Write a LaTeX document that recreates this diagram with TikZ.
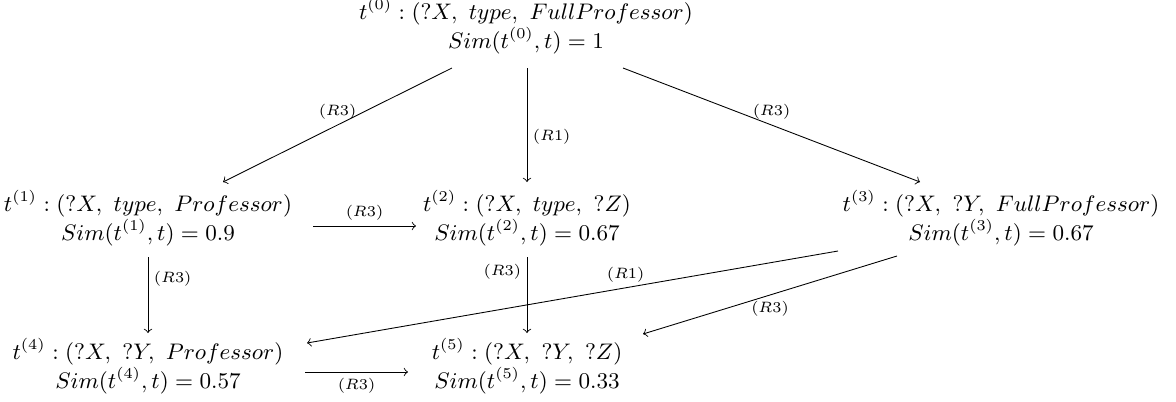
\documentclass[tikz,border=0pt]{standalone}
\usetikzlibrary{calc}
\begin{document}
\begin{tikzpicture}[x=0.4pt,y=-0.4pt,
  term/.style={align=center, inner sep=0pt, font=\fontsize{8.8}{10.56}\selectfont},
  arr/.style={->, line width=0.35pt},
  lab/.style={font=\fontsize{6.2}{7.4}\selectfont, inner sep=2.2pt}]
\useasboundingbox (0,0) rectangle (1176,401);
\node[term] (t0) at (526,26) {$t^{(0)} : (?X,\ type,\ FullProfessor)$\\ $Sim(t^{(0)}, t) = 1$};
\node[term] (t1) at (148,218) {$t^{(1)} : (?X,\ type,\ Professor)$\\ $Sim(t^{(1)}, t) = 0.9$};
\node[term] (t2) at (527,218) {$t^{(2)} : (?X,\ type,\ ?Z)$\\ $Sim(t^{(2)}, t) = 0.67$};
\node[term] (t3) at (1001,218) {$t^{(3)} : (?X,\ ?Y,\ FullProfessor)$\\ $Sim(t^{(3)}, t) = 0.67$};
\node[term] (t4) at (148,366) {$t^{(4)} : (?X,\ ?Y,\ Professor)$\\ $Sim(t^{(4)}, t) = 0.57$};
\node[term] (t5) at (527,366) {$t^{(5)} : (?X,\ ?Y,\ ?Z)$\\ $Sim(t^{(5)}, t) = 0.33$};
% edges
\draw[arr] ($(t0)+(-74,42)$) -- node[lab,above,pos=0.5]{$(R3)$} ($(t1)+(75,-36)$);
\draw[arr] ($(t0)+(1,42)$) -- node[lab,right,pos=0.6]{$(R1)$} ($(t2)+(0,-36)$);
\draw[arr] ($(t0)+(97,42)$) -- node[lab,above,pos=0.5]{$(R3)$} ($(t3)+(-81,-36)$);
\draw[arr] ($(t1)+(165,8)$) -- node[lab,above]{$(R3)$} ($(t2)+(-111,8)$);
\draw[arr] ($(t1)+(0,39)$) -- node[lab,right,pos=0.28]{$(R3)$} ($(t4)+(0,-33)$);
\draw[arr] ($(t2)+(0,39)$) -- node[lab,left,pos=0.2]{$(R3)$} ($(t5)+(0,-33)$);
\draw[arr] ($(t3)+(-163,33)$) -- node[lab,above,pos=0.4]{$(R1)$} ($(t4)+(159,-23)$);
\draw[arr] ($(t3)+(-104,38)$) -- node[lab,below,pos=0.5]{$(R3)$} ($(t5)+(116,-32)$);
\draw[arr] ($(t4)+(157,6)$) -- node[lab,below]{$(R3)$} ($(t5)+(-119,6)$);
\end{tikzpicture}
\end{document}
